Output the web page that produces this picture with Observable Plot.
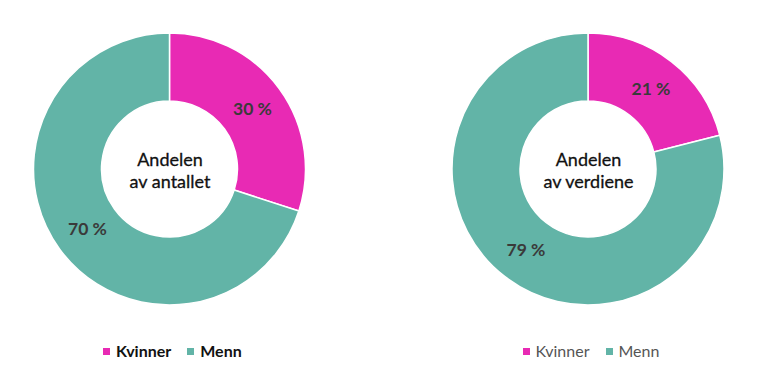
<!DOCTYPE html>
<html>
<head>
<meta charset="utf-8">
<script src="https://cdn.jsdelivr.net/npm/d3@7"></script>
<script src="https://cdn.jsdelivr.net/npm/@observablehq/plot@0.6"></script>
<style>
  html, body { margin: 0; padding: 0; background: #fff; }
  body { width: 767px; height: 370px; position: relative; font-family: Lato, "Open Sans", sans-serif; }
  .legend { position: absolute; top: 341px; display: flex; align-items: center; font-size: 16px; line-height: 20px; }
  .legend span.sw { display: inline-block; width: 7px; height: 7px; margin-right: 6px; }
  .legend span.item { display: inline-flex; align-items: center; margin-right: 16px; }
</style>
</head>
<body>
<div id="chart"></div>
<script>
// Data
const categories = ["Kvinner", "Menn"];
const colors = ["#e82ab4", "#62b4a7"];
const antallShares = [30, 70];
const verdiShares = [21, 79];
const centerTitles = ["Andelen\nav antallet", "Andelen\nav verdiene"];

// Layout
const W = 767, H = 335;
const centers = [[169.5, 169], [588, 169]];
const outerR = 136, innerR = 68;

const donuts = [antallShares, verdiShares].map((vals, k) => {
  const pie = d3.pie().sort(null).value(d => d.value)(
    categories.map((c, i) => ({category: c, value: vals[i], color: colors[i]}))
  );
  return pie.map(p => ({...p, donut: k, cx: centers[k][0], cy: centers[k][1]}));
});
const slices = donuts.flat();
const arc = d3.arc().innerRadius(innerR).outerRadius(outerR);

const arcsMark = (index, scales) => {
  const g = d3.create("svg:g");
  g.selectAll("path")
    .data(slices)
    .join("path")
    .attr("transform", d => `translate(${scales.x(d.cx)},${scales.y(d.cy)})`)
    .attr("d", arc)
    .attr("fill", d => d.data.color)
    .attr("stroke", "#fff")
    .attr("stroke-width", 1.5)
    .attr("stroke-linejoin", "round");
  return g.node();
};

const centerData = centerTitles.map((t, k) => ({text: t, cx: centers[k][0], cy: centers[k][1]}));

const plot = Plot.plot({
  width: W,
  height: H,
  margin: 0,
  x: {type: "identity", axis: null},
  y: {type: "identity", axis: null},
  style: {fontFamily: "Lato, 'Open Sans', sans-serif", background: "#fff"},
  marks: [
    arcsMark,
    Plot.text(slices, {
      x: d => d.cx + arc.centroid(d)[0],
      y: d => d.cy + arc.centroid(d)[1],
      text: d => `${d.data.value} %`,
      fill: "#3a3a3a",
      fontSize: 17.5,
      fontWeight: "bold"
    }),
    Plot.text(centerData, {
      x: "cx",
      y: "cy",
      text: "text",
      fill: "#111",
      stroke: "#111",
      strokeWidth: 0.3,
      fontSize: 18,
      lineHeight: 1.22,
      lineAnchor: "middle",
      style: "letter-spacing: 0.3px"
    })
  ]
});
document.getElementById("chart").appendChild(plot);

// Legends
const legendSpecs = [
  {left: 103, weight: "bold", color: "#111"},
  {left: 522.5, weight: "normal", color: "#555"}
];
legendSpecs.forEach(spec => {
  const div = document.createElement("div");
  div.className = "legend";
  div.style.left = spec.left + "px";
  div.style.fontWeight = spec.weight;
  div.style.color = spec.color;
  categories.forEach((c, i) => {
    const item = document.createElement("span");
    item.className = "item";
    const sw = document.createElement("span");
    sw.className = "sw";
    sw.style.background = colors[i];
    item.appendChild(sw);
    item.appendChild(document.createTextNode(c));
    div.appendChild(item);
  });
  document.body.appendChild(div);
});
</script>
</body>
</html>
